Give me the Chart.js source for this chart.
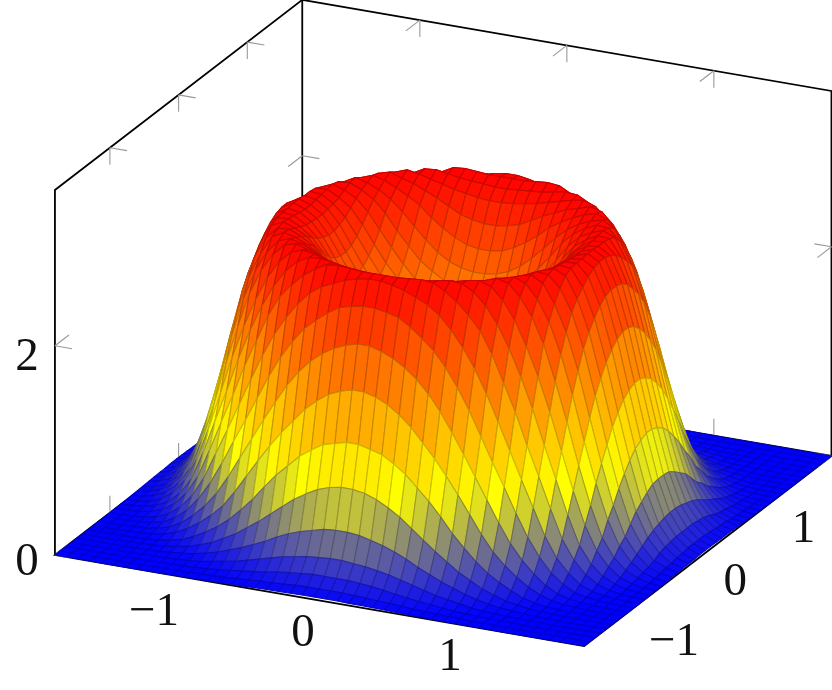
<!DOCTYPE html>
<html>
<head>
<meta charset="utf-8">
<title>Surface</title>
<script src="https://cdn.jsdelivr.net/npm/chart.js@4"></script>
<style>
  html, body { margin: 0; padding: 0; background: #fff; }
  canvas { display: block; }
</style>
</head>
<body>
<canvas id="grafica" width="832" height="690"></canvas>
<script>
// tick labels
const xTicks = [-1, 0, 1];
const yTicks = [-1, 0, 1];
const zTicks = [0, 2];
const zLabelTicks = [0, 2];

// sample positions along one half of the domain
const halfSamples = [0.04, 0.12, 0.2, 0.28, 0.36, 0.44, 0.52, 0.6, 0.68, 0.76, 0.84, 0.92,
  1.0, 1.08, 1.16, 1.24, 1.32, 1.4, 1.48, 1.56, 1.64, 1.72, 1.8];

// heights for one quadrant, the surface mirrors it on both axes
// rows go along y, columns along x
const heightRows = [
  [1.39,1.42,1.45,1.52,1.63,1.76,1.90,2.06,2.24,2.42,2.56,2.63,2.67,2.61,2.36,1.98,1.51,1.05,.63,.33,.16,.07,.025],
  [1.42,1.44,1.48,1.55,1.66,1.79,1.92,2.08,2.26,2.44,2.57,2.64,2.66,2.59,2.34,1.95,1.48,1.02,.62,.32,.16,.07,.024],
  [1.45,1.49,1.53,1.61,1.71,1.84,1.98,2.14,2.31,2.47,2.58,2.65,2.66,2.55,2.29,1.89,1.43,.98,.58,.30,.15,.06,.02],
  [1.54,1.57,1.62,1.69,1.80,1.92,2.05,2.21,2.38,2.52,2.60,2.66,2.65,2.49,2.21,1.81,1.35,.91,.53,.28,.14,.056,.02],
  [1.66,1.69,1.73,1.81,1.90,2.02,2.16,2.31,2.46,2.57,2.63,2.67,2.62,2.42,2.12,1.70,1.25,.82,.48,.25,.12,.045,.018],
  [1.80,1.83,1.88,1.95,2.03,2.15,2.28,2.43,2.54,2.61,2.66,2.65,2.54,2.33,2.00,1.57,1.12,.72,.40,.21,.09,.043,.015],
  [1.96,1.98,2.02,2.09,2.19,2.30,2.42,2.52,2.59,2.64,2.67,2.61,2.43,2.18,1.83,1.40,.98,.60,.32,.17,.07,.028,.011],
  [2.14,2.16,2.21,2.28,2.36,2.46,2.53,2.59,2.64,2.67,2.63,2.50,2.30,2.01,1.64,1.21,.83,.50,.27,.135,.06,.022,.009],
  [2.34,2.36,2.39,2.45,2.51,2.56,2.61,2.64,2.68,2.65,2.54,2.37,2.13,1.79,1.42,1.02,.66,.37,.20,.10,.046,.017,.007],
  [2.52,2.53,2.55,2.57,2.60,2.63,2.66,2.68,2.64,2.53,2.36,2.13,1.86,1.54,1.18,.82,.51,.29,.155,.07,.029,.011,.005],
  [2.61,2.62,2.63,2.64,2.66,2.68,2.67,2.61,2.50,2.34,2.13,1.88,1.59,1.26,.95,.63,.36,.20,.105,.05,.02,.009,.003],
  [2.67,2.67,2.68,2.69,2.68,2.62,2.54,2.43,2.30,2.10,1.84,1.58,1.28,1.00,.71,.44,.26,.14,.07,.03,.012,.0045,.002],
  [2.66,2.64,2.61,2.56,2.51,2.43,2.31,2.16,1.98,1.76,1.51,1.25,.99,.74,.49,.30,.175,.087,.04,.019,.008,.003,.001],
  [2.44,2.42,2.39,2.32,2.23,2.13,1.99,1.82,1.62,1.39,1.16,.94,.71,.50,.33,.20,.11,.05,.027,.012,.005,.002,.001],
  [2.12,2.09,2.04,1.97,1.88,1.76,1.61,1.43,1.24,1.04,.84,.64,.46,.32,.21,.12,.06,.03,.014,.006,.002,.001,0],
  [1.72,1.69,1.64,1.56,1.46,1.33,1.20,1.05,.89,.72,.55,.40,.29,.20,.125,.07,.034,.016,.009,.004,.001,0,0],
  [1.26,1.23,1.20,1.13,1.05,.94,.83,.70,.56,.44,.33,.24,.17,.11,.06,.033,.016,.009,.004,.0015,0,0,0],
  [.87,.85,.81,.75,.68,.59,.50,.41,.33,.25,.19,.13,.09,.055,.035,.017,.01,.005,.002,.001,0,0,0],
  [.50,.49,.46,.43,.39,.34,.28,.23,.18,.14,.10,.07,.044,.028,.018,.009,.005,.002,.001,0,0,0,0],
  [.27,.26,.25,.23,.21,.18,.15,.12,.09,.07,.05,.03,.019,.014,.008,.004,.002,.001,0,0,0,0,0],
  [.14,.14,.13,.12,.105,.086,.07,.055,.045,.03,.02,.014,.009,.006,.004,.002,.001,0,0,0,0,0,0],
  [.06,.06,.056,.05,.043,.04,.03,.022,.017,.013,.009,.006,.004,.003,.002,.001,0,0,0,0,0,0,0],
  [.025,.024,.021,.02,.019,.016,.012,.01,.008,.006,.004,.003,.002,.001,.001,0,0,0,0,0,0,0,0]
];

// colormap: blue, yellow, orange, red
const colorStops = [[0, 0, 255], [255, 255, 0], [255, 128, 0], [255, 0, 0]];

// axis box, in data units
const xyLimit = 1.8;
const zTop = 3.49;

// orthographic view: screen units per data unit
const view = { cx: 443.2, cy: 505.5, xx: 147, xy: 25.3, yx: 68.7, yy: -52.8, zy: -104.6 };

function project(x, y, z) {
  return {
    x: view.cx + view.xx * x + view.yx * y,
    y: view.cy + view.xy * x + view.yy * y + view.zy * z
  };
}

// full sample list and mirrored height lookup
const samples = [...halfSamples].reverse().map(v => -v).concat(halfSamples);
const mirrorIndex = i => i < halfSamples.length ? halfSamples.length - 1 - i : i - halfSamples.length;
const heightAt = (i, j) => heightRows[mirrorIndex(j)][mirrorIndex(i)];

const zMax = Math.max(...heightRows.flat());

function mapColor(z) {
  const t = Math.min(z / zMax, 1) * (colorStops.length - 1);
  const k = Math.min(Math.floor(t), colorStops.length - 2);
  const f = t - k;
  return colorStops[k].map((c, n) => c + (colorStops[k + 1][n] - c) * f);
}
const toRgb = c => `rgb(${c.map(Math.round).join(",")})`;

function lineDataset(points, color, width) {
  return {
    data: points.map(p => project(p[0], p[1], p[2])),
    showLine: true,
    fill: false,
    borderColor: color,
    borderWidth: width,
    pointRadius: 0,
    tension: 0
  };
}

// everything in drawing order, back to front
const drawList = [];

// box lines behind the surface
const L = xyLimit;
const boxLines = [
  [[-L, -L, 0], [-L, -L, zTop], [-L, L, zTop], [L, L, zTop], [L, L, 0], [L, -L, 0], [-L, -L, 0], [-L, L, 0], [L, L, 0]],
  [[-L, L, 0], [-L, L, zTop]]
];
boxLines.forEach(b => drawList.push(lineDataset(b, "#000", 1.8)));

// tick marks on the walls
const tickColor = "#999";
const tickX = 0.116, tickY = 0.204, tickZ = 0.162;
function addTick(from, dx, dy, dz) {
  drawList.push(lineDataset([from, [from[0] + dx, from[1] + dy, from[2] + dz]], tickColor, 1.1));
}
xTicks.forEach(t => {
  addTick([t, L, zTop], 0, 0, -tickZ);
  addTick([t, L, zTop], 0, -tickY, 0);
  addTick([t, L, 0], 0, 0, tickZ);
  addTick([t, L, 0], 0, -tickY, 0);
});
yTicks.forEach(t => {
  addTick([-L, t, zTop], 0, 0, -tickZ);
  addTick([-L, t, zTop], tickX, 0, 0);
  addTick([-L, t, 0], 0, 0, tickZ);
  addTick([-L, t, 0], tickX, 0, 0);
});
zTicks.forEach(t => {
  addTick([-L, -L, t], 0, tickY, 0);
  addTick([-L, -L, t], tickX, 0, 0);
  addTick([-L, L, t], 0, -tickY, 0);
  addTick([-L, L, t], tickX, 0, 0);
  addTick([L, L, t], 0, -tickY, 0);
  addTick([L, L, t], -tickX, 0, 0);
});

// surface cells, far corner first so the nearer ones paint over them
for (let j = samples.length - 2; j >= 0; j--) {
  for (let i = 0; i < samples.length - 1; i++) {
    const corners = [[i, j], [i + 1, j], [i + 1, j + 1], [i, j + 1], [i, j]];
    const mean = (heightAt(i, j) + heightAt(i + 1, j) + heightAt(i + 1, j + 1) + heightAt(i, j + 1)) / 4;
    const color = mapColor(mean);
    drawList.push({
      data: corners.map(c => project(samples[c[0]], samples[c[1]], heightAt(c[0], c[1]))),
      showLine: true,
      fill: "shape",
      backgroundColor: toRgb(color),
      borderColor: toRgb(color.map(c => c * 0.78)),
      borderWidth: 1.1,
      borderJoinStyle: "round",
      pointRadius: 0,
      tension: 0
    });
  }
}

// label offsets from the tick position, in screen units
const xLabelShift = [[-18.5, 37], [-16.5, 33.5], [-16.5, 32]];
const yLabelShift = [[35, 39], [27.4, 32], [27, 31]];
const zLabelShift = [[-28, 8], [-28, 12]];
const tickText = v => (v < 0 ? "\u2212" + Math.abs(v) : String(v));

const tickLabels = {
  id: "tickLabels",
  afterDatasetsDraw(chart) {
    const { ctx, scales } = chart;
    ctx.save();
    ctx.fillStyle = "#111";
    ctx.font = '47px "Liberation Serif"';
    ctx.textAlign = "center";
    ctx.textBaseline = "middle";
    const put = (value, pos, shift) => {
      ctx.fillText(tickText(value),
        scales.x.getPixelForValue(pos.x) + shift[0],
        scales.y.getPixelForValue(pos.y) + shift[1]);
    };
    xTicks.forEach((t, n) => put(t, project(t, -L, 0), xLabelShift[n]));
    yTicks.forEach((t, n) => put(t, project(L, t, 0), yLabelShift[n]));
    zLabelTicks.forEach((t, n) => put(t, project(-L, -L, t), zLabelShift[n]));
    ctx.restore();
  }
};

// Chart.js paints the first dataset last, so the list goes in reversed
new Chart(document.querySelector("#grafica"), {
  type: "scatter",
  data: { datasets: drawList.reverse() },
  options: {
    responsive: false,
    animation: false,
    events: [],
    layout: { padding: 0 },
    plugins: { legend: { display: false }, tooltip: { enabled: false } },
    scales: {
      x: { type: "linear", display: false, min: 0, max: 832 },
      y: { type: "linear", display: false, min: 0, max: 690, reverse: true }
    }
  },
  plugins: [tickLabels]
});
</script>
</body>
</html>
